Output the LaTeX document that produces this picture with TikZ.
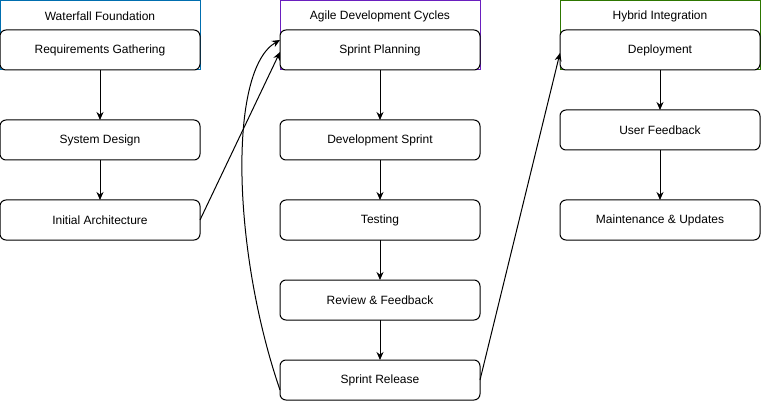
\documentclass[tikz,border=0pt]{standalone}
\usepackage{fontspec}
\setmainfont{Liberation Sans}
\usetikzlibrary{arrows.meta,calc}
\definecolor{laneblue}{HTML}{006EAF}
\definecolor{lanepurple}{HTML}{6A1FBF}
\definecolor{lanegreen}{HTML}{2D7600}
\tikzset{
  stepbox/.style={draw=black, fill=white, rounded corners=6pt, line width=1pt,
    minimum width=200pt, minimum height=40pt, inner sep=0pt, outer sep=0pt,
    font=\fontsize{12}{14}\selectfont},
  lanebox/.style={draw=#1, fill=white, line width=1pt,
    minimum width=200pt, minimum height=69pt, inner sep=0pt, outer sep=0pt},
  lanehead/.style={minimum width=200pt, minimum height=30pt, inner sep=0pt,
    outer sep=0pt, font=\fontsize{12}{14}\selectfont},
  flow/.style={draw=black, line width=1pt, -{Stealth[length=8pt,width=7pt]}}
}
\begin{document}
\begin{tikzpicture}[x=1pt,y=-1pt]
\useasboundingbox (0,0) rectangle (761,401);
% lanes
\node[lanebox=laneblue] (l1) at (100,35.5) {};
\node[lanebox=lanepurple] (l2) at (380,35.5) {};
\node[lanebox=lanegreen] (l3) at (660,35.5) {};
\node[lanehead] (h1) at (100,16) {Waterfall Foundation};
\node[lanehead] (h2) at (380,16) {Agile Development Cycles};
\node[lanehead] (h3) at (660,16) {Hybrid Integration};
% column 1
\node[stepbox] (rg) at (100,50) {Requirements Gathering};
\node[stepbox] (sd) at (100,140) {System Design};
\node[stepbox] (ia) at (100,220) {Initial Architecture};
% column 2
\node[stepbox] (sp) at (380,50) {Sprint Planning};
\node[stepbox] (ds) at (380,140) {Development Sprint};
\node[stepbox] (te) at (380,220) {Testing};
\node[stepbox] (rf) at (380,300) {Review \& Feedback};
\node[stepbox] (sr) at (380,380) {Sprint Release};
% column 3
\node[stepbox] (de) at (660,50) {Deployment};
\node[stepbox] (uf) at (660,130) {User Feedback};
\node[stepbox] (mu) at (660,220) {Maintenance \& Updates};
% vertical flows
\draw[flow] (rg) -- (sd);
\draw[flow] (sd) -- (ia);
\draw[flow] (sp) -- (ds);
\draw[flow] (ds) -- (te);
\draw[flow] (te) -- (rf);
\draw[flow] (rf) -- (sr);
\draw[flow] (de) -- (uf);
\draw[flow] (uf) -- (mu);
% cross flows
\draw[flow] (ia.east) -- ($(sp.west)+(0,2)$);
\draw[flow] ($(sr.south west)+(0,-10)$) .. controls (232,250) and (228,70) .. ($(sp.north west)+(0,10)$);
\draw[flow] (sr.east) -- ($(de.west)+(0,3)$);
\end{tikzpicture}
\end{document}
